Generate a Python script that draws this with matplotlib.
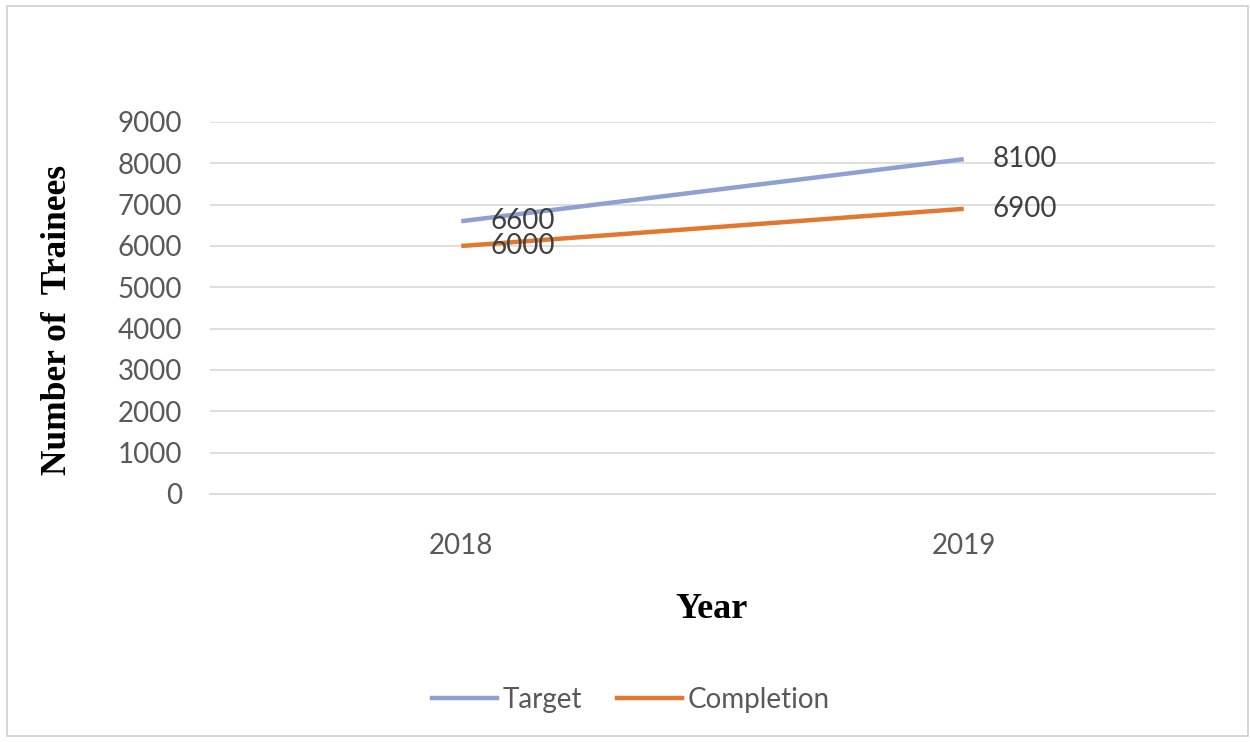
import matplotlib
matplotlib.use("Agg")
import matplotlib.pyplot as plt
from matplotlib.patches import Rectangle
from matplotlib.lines import Line2D

years = ["2018", "2019"]
target = [6600, 8100]
completion = [6000, 6900]
y_ticks = [0, 1000, 2000, 3000, 4000, 5000, 6000, 7000, 8000, 9000]

target_color = "#8FA0D2"
completion_color = "#E2772F"
grid_color = "#D9D9D9"
tick_color = "#595959"
label_color = "#404040"
sans = ["Lato", "DejaVu Sans"]
serif = ["Liberation Serif", "DejaVu Serif"]
fs = 20

fig = plt.figure(figsize=(12.5, 7.42), dpi=100)
fig.patch.set_facecolor("white")

# chart frame
fig.add_artist(Rectangle((7 / 1250, 1 - 736 / 742), 1241 / 1250, 730 / 742,
                         transform=fig.transFigure, fill=False,
                         edgecolor="#D0D0D0", linewidth=1.2))

ax = fig.add_axes([210 / 1250, 1 - 494 / 742, 1005 / 1250, 372 / 742])
x = list(range(len(years)))

ax.plot(x, target, color=target_color, linewidth=3.2, solid_capstyle="butt", zorder=3)
ax.plot(x, completion, color=completion_color, linewidth=3.2, solid_capstyle="butt", zorder=3)

for series in (target, completion):
    for xi, v in zip(x, series):
        ax.annotate(str(v), (xi, v), xytext=(21, 0), textcoords="offset points",
                    va="center", ha="left", fontsize=fs, color=label_color,
                    family=sans, zorder=4)

ax.set_xlim(-0.5, len(years) - 0.5)
ax.set_ylim(0, 9000)
ax.set_yticks(y_ticks)
ax.set_yticklabels([str(t) for t in y_ticks], family=sans, fontsize=fs, color=tick_color)
ax.set_xticks(x)
ax.set_xticklabels(years, family=sans, fontsize=fs, color=tick_color)
ax.tick_params(axis="y", length=0, pad=20)
ax.tick_params(axis="x", length=0, pad=28)

ax.grid(axis="y", color=grid_color, linewidth=1.2)
ax.set_axisbelow(True)
for side in ["top", "right", "left"]:
    ax.spines[side].set_visible(False)
ax.spines["bottom"].set_color(grid_color)
ax.spines["bottom"].set_linewidth(1.2)

fig.text(58 / 1250, 1 - 320 / 742, "Number of  Trainees", rotation=90,
         ha="center", va="center", family=serif, fontweight="bold",
         fontsize=25.5, color="black")
fig.text(712 / 1250, 1 - 610 / 742, "Year", ha="center", va="center",
         family=serif, fontweight="bold", fontsize=26, color="black")

handles = [Line2D([], [], color=target_color, linewidth=3.2),
           Line2D([], [], color=completion_color, linewidth=3.2)]
fig.legend(handles, ["Target", "Completion"], loc="center",
           bbox_to_anchor=(631 / 1250, 1 - 700 / 742), ncol=2, frameon=False,
           prop={"family": sans, "size": fs}, labelcolor=tick_color,
           handlelength=2.35, handletextpad=0.2, columnspacing=1.25)

fig.savefig("out.png", dpi=100, facecolor="white")
